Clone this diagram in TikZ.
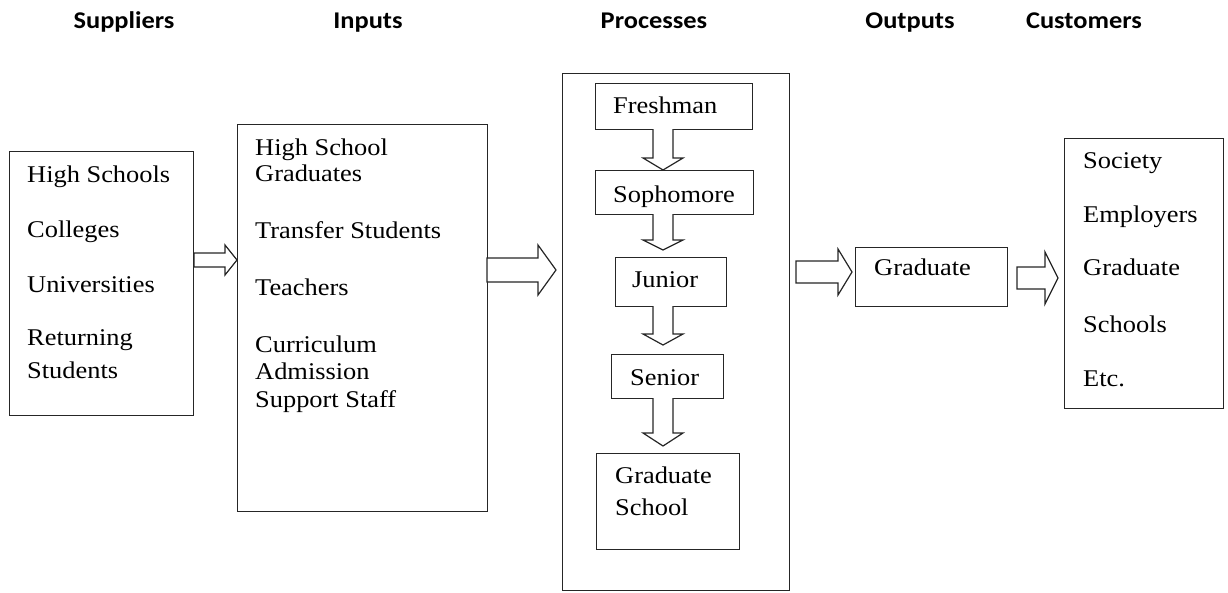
\documentclass[tikz,border=0pt]{standalone}
\usepackage{fontspec}
\setmainfont{Liberation Serif}[FakeStretch=1.1]
\newfontfamily\hdfont{Carlito}[FakeStretch=1.1]
\begin{document}
\begin{tikzpicture}[x=1pt,y=-1pt,
  box/.style={draw=black!85,line width=1.3pt,rectangle,inner sep=0pt,anchor=north west},
  txt/.style={inner sep=0pt,anchor=base west,font=\fontsize{24}{28}\selectfont},
  hdr/.style={inner sep=0pt,anchor=base,font=\hdfont\bfseries\fontsize{24}{28}\selectfont},
  blk/.style={draw=black!85,line width=1.2pt,fill=white,line join=miter}]
\useasboundingbox (0,0) rectangle (1228,592);
\newcommand{\harr}[7]{% x0, xh, xtip, yc, half shaft, half head
  \draw[blk] (#1,#4-#5) -- (#2,#4-#5) -- (#2,#4-#6) -- (#3,#4) -- (#2,#4+#6) -- (#2,#4+#5) -- (#1,#4+#5) -- cycle;}
\newcommand{\varr}[6]{% y0, yh, ytip, xc, half shaft, half head
  \draw[blk] (#4-#5,#1) -- (#4-#5,#2) -- (#4-#6,#2) -- (#4,#3) -- (#4+#6,#2) -- (#4+#5,#2) -- (#4+#5,#1);}

% headers
\node[hdr] (h1) at (124,28) {Suppliers};
\node[hdr] (h2) at (368,28) {Inputs};
\node[hdr] (h3) at (654,28) {Processes};
\node[hdr] (h4) at (910,28) {Outputs};
\node[hdr] (h5) at (1084,28) {Customers};

% Suppliers
\node[box,minimum width=184pt,minimum height=264pt] (sup) at (9,151) {};
\node[txt] (s1) at (27,182) {High Schools};
\node[txt] (s2) at (27,237) {Colleges};
\node[txt] (s3) at (27,292) {Universities};
\node[txt] (s4) at (27,345) {Returning};
\node[txt] (s5) at (27,378) {Students};

% Inputs
\node[box,minimum width=250pt,minimum height=387pt] (inp) at (237,124) {};
\node[txt] (i1) at (255,155) {High School};
\node[txt] (i2) at (255,181) {Graduates};
\node[txt] (i3) at (255,238) {Transfer Students};
\node[txt] (i4) at (255,295) {Teachers};
\node[txt] (i5) at (255,352) {Curriculum};
\node[txt] (i6) at (255,379) {Admission};
\node[txt] (i7) at (255,407) {Support Staff};

% Processes
\node[box,minimum width=227pt,minimum height=517pt] (pro) at (562,73) {};
\node[box,minimum width=157pt,minimum height=46pt] (fr) at (595,83) {};
\node[txt] (frt) at (613,113) {Freshman};
\node[box,minimum width=158pt,minimum height=44pt] (so) at (595,170) {};
\node[txt] (sot) at (613,202) {Sophomore};
\node[box,minimum width=111pt,minimum height=49pt] (ju) at (615,257) {};
\node[txt] (jut) at (632,287) {Junior};
\node[box,minimum width=112pt,minimum height=44pt] (se) at (611,354) {};
\node[txt] (set) at (630,385) {Senior};
\node[box,minimum width=143pt,minimum height=96pt] (gs) at (596,453) {};
\node[txt] (gst1) at (615,483) {Graduate};
\node[txt] (gst2) at (615,515) {School};

\varr{129}{158}{170}{663}{10}{20}
\varr{214}{240}{250}{663}{10}{20}
\varr{306}{334}{345}{663}{10}{20}
\varr{398}{433}{446}{663}{10}{20}

% Outputs
\node[box,minimum width=152pt,minimum height=59pt] (out) at (855,247) {};
\node[txt] (outt) at (874,275) {Graduate};

% Customers
\node[box,minimum width=159pt,minimum height=270pt] (cus) at (1064,138) {};
\node[txt] (c1) at (1083,168) {Society};
\node[txt] (c2) at (1083,222) {Employers};
\node[txt] (c3) at (1083,275) {Graduate};
\node[txt] (c4) at (1083,332) {Schools};
\node[txt] (c5) at (1083,386) {Etc.};

% block arrows
\harr{194}{225}{237}{260}{7}{15}{}
\harr{487}{538}{556}{270}{12}{25}{}
\harr{796}{838}{852}{272}{11}{23}{}
\harr{1017}{1045}{1058}{278}{11}{26}{}
\end{tikzpicture}
\end{document}
